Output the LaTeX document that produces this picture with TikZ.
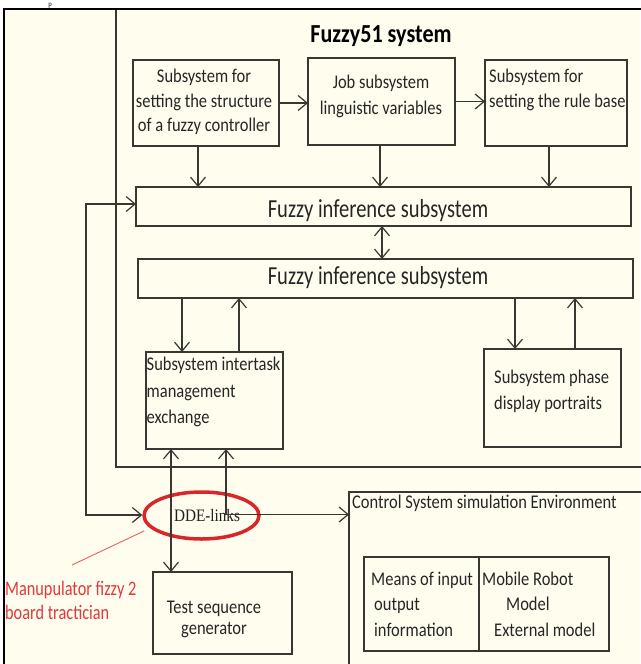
\documentclass[tikz,border=0pt]{standalone}
\usepackage{fontspec}
\setmainfont[FakeStretch=0.85]{Carlito}
\newfontfamily\inffont[FakeStretch=0.79]{Carlito}
\newfontfamily\ddefont[FakeStretch=0.87]{Liberation Serif}
\newfontfamily\fragfont{Liberation Serif}
\usetikzlibrary{arrows.meta,shapes.geometric}
\definecolor{bg}{HTML}{FFFDEE}
\definecolor{ln}{HTML}{3B3632}
\definecolor{redc}{HTML}{D8262A}
\definecolor{redt}{HTML}{E0393B}
\begin{document}
\begin{tikzpicture}[x=1pt,y=-1pt,
  box/.style={draw=ln, line width=1.3pt, inner sep=0pt, outer sep=0pt, rectangle},
  tb/.style={inner sep=0pt, text=black!85, font=\fontsize{19.4}{24.5}\selectfont},
  arr/.style={draw=ln, line width=1.2pt, -{Straight Barb[length=9pt,width=15pt]}},
  darr/.style={draw=ln, line width=1.2pt, {Straight Barb[length=9pt,width=15pt]}-{Straight Barb[length=9pt,width=15pt]}}]
\useasboundingbox[fill=white] (0,0) rectangle (640,664);
\fill[bg] (4,9) rectangle (640,664);
% stray text fragment at top
\node[inner sep=0pt, font=\fragfont\fontsize{7}{7}\selectfont, anchor=base] (frag) at (50,6.3) {p};
% system frame
\node[box, minimum width=544pt, minimum height=458pt] (sys) at (388,238) {};
% boxes
\node[box, minimum width=146pt, minimum height=86pt] (A) at (206,103) {};
\node[box, minimum width=147pt, minimum height=87pt] (B) at (381.5,101.5) {};
\node[box, minimum width=142pt, minimum height=86pt] (C) at (556,103) {};
\node[box, minimum width=495pt, minimum height=39pt] (inf1) at (383.5,206.5) {};
\node[box, minimum width=495pt, minimum height=39pt] (inf2) at (385.5,278.5) {};
\node[box, minimum width=137pt, minimum height=97pt] (inter) at (214.5,400.5) {};
\node[box, minimum width=137pt, minimum height=98pt] (phase) at (552.5,398) {};
\node[box, minimum width=139pt, minimum height=82pt] (test) at (222.5,613) {};
\node[box, minimum width=311pt, minimum height=176pt] (ctrl) at (504.5,580) {};
\node[box, minimum width=115pt, minimum height=94pt] (means) at (421.5,604) {};
\node[box, minimum width=130pt, minimum height=94pt] (robot) at (544,604) {};
% texts
\node[inner sep=0pt, font=\bfseries\fontsize{26}{28}\selectfont] (title) at (381,36) {Fuzzy51 system};
\node[tb, align=center] (At) at (204,102) {Subsystem for\\setting the structure\\of a fuzzy controller};
\node[tb, align=center, font=\fontsize{19.4}{26}\selectfont] (Bt) at (381,96) {Job subsystem\\linguistic variables};
\node[tb, align=left, anchor=west, font=\fontsize{19.4}{25}\selectfont] (Ct) at (489,90) {Subsystem for\\setting the rule base};
\node[tb, font=\inffont\fontsize{26}{28}\selectfont] (inf1t) at (378,211) {Fuzzy inference subsystem};
\node[tb, font=\inffont\fontsize{26}{28}\selectfont] (inf2t) at (378,278) {Fuzzy inference subsystem};
\node[tb, align=left, anchor=west, font=\fontsize{19.4}{26.5}\selectfont] (intert) at (146.5,392) {Subsystem intertask\\management\\exchange};
\node[tb, align=left, anchor=west, font=\fontsize{19.4}{26}\selectfont] (phaset) at (494,391) {Subsystem phase\\display portraits};
\node[tb, align=center, font=\fontsize{19.4}{21}\selectfont] (testt) at (214,619) {Test sequence\\generator};
\node[tb, anchor=west] (ctrlt) at (352,503) {Control System simulation Environment};
\node[tb, align=left, anchor=west, font=\fontsize{19.4}{25.5}\selectfont] (meanst) at (371,604) {Means of input\\\hspace{3pt}output\\\hspace{3pt}information};
\node[tb, align=left, anchor=west, font=\fontsize{19.4}{25.5}\selectfont] (robott) at (482,604) {Mobile Robot\\\hspace{24pt}Model\\\hspace{12pt}External model};
\node[inner sep=0pt, align=left, anchor=west, text=redt, font=\inffont\fontsize{20.6}{24}\selectfont] (redl) at (5,600) {Manupulator fizzy 2\\board tractician};
% DDE ellipse
\node[ellipse, draw=redc, line width=3.5pt, minimum width=115pt, minimum height=47pt, inner sep=0pt] (dde) at (201.5,515.5) {};
\node[inner sep=0pt, text=black!88, font=\ddefont\fontsize{17.5}{18}\selectfont] (ddet) at (207,516) {DDE-links};
% connectors
\draw[arr] (A.east) -- (A.east -| B.west);
\draw[arr] (B.east) -- (B.east -| C.west);
\draw[arr] ([xshift=-8pt]A.south) -- ([xshift=-8pt]A.south |- inf1.north);
\draw[arr] ([xshift=-1.5pt]B.south) -- ([xshift=-1.5pt]B.south |- inf1.north);
\draw[arr] ([xshift=-7pt]C.south) -- ([xshift=-7pt]C.south |- inf1.north);
\draw[darr] ([xshift=-1.5pt]inf1.south) -- ([xshift=-1.5pt]inf1.south |- inf2.north);
\draw[arr] ([xshift=-32.5pt]inter.north |- inf2.south) -- ([xshift=-32.5pt]inter.north);
\draw[arr] ([xshift=24.5pt]inter.north) -- ([xshift=24.5pt]inter.north |- inf2.south);
\draw[arr] ([xshift=-37.5pt]phase.north |- inf2.south) -- ([xshift=-37.5pt]phase.north);
\draw[arr] ([xshift=22.5pt]phase.north) -- ([xshift=22.5pt]phase.north |- inf2.south);
\draw[darr] ([xshift=-43.5pt]inter.south) -- ([xshift=-43.5pt]inter.south |- test.north);
\coordinate (j2) at (226,514.5);
\draw[arr] (j2) -- (j2 |- inter.south);
\draw[arr] (j2) -- (j2 -| ctrl.west);
\coordinate (lt) at (86,204);
\coordinate (lb) at (86,515);
\draw[darr] (lt -| inf1.west) -- (lt) -- (lb) -- (lb -| dde.west);
\coordinate (pa) at (72,565);
\coordinate (pb) at (144,531);
\draw[redt!80, line width=0.9pt] (pa) -- (pb);
% outer frame
\coordinate (f1) at (4,668);
\coordinate (f2) at (4,9);
\coordinate (f3) at (644,9);
\draw[black, line width=2.6pt] (f1) -- (f2) -- (f3);
\end{tikzpicture}
\end{document}
